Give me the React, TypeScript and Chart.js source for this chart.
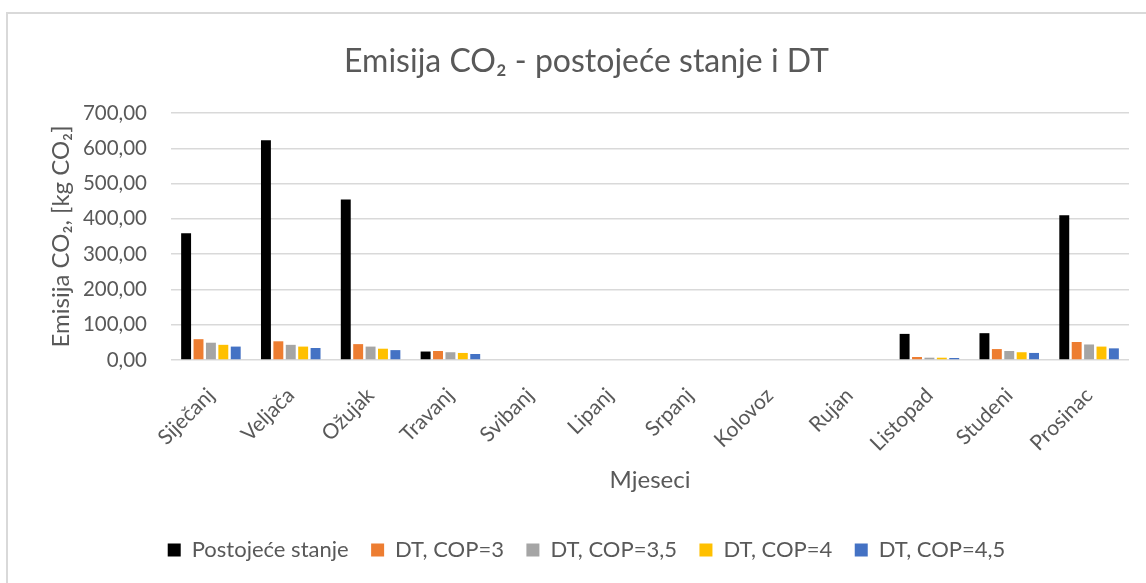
import React, { useEffect, useRef } from 'react';
import { Chart, registerables } from 'chart.js';

Chart.register(...registerables);

const months = ['Siječanj', 'Veljača', 'Ožujak', 'Travanj', 'Svibanj', 'Lipanj', 'Srpanj', 'Kolovoz', 'Rujan', 'Listopad', 'Studeni', 'Prosinac'];
const seriesNames = ['Postojeće stanje', 'DT, COP=3', 'DT, COP=3,5', 'DT, COP=4', 'DT, COP=4,5'];
const postojece = [359, 623, 455, 24, 0, 0, 0, 0, 0, 74, 76, 410];
const cop3 = [59, 53, 45, 25.5, 0, 0, 0, 0, 0, 8.5, 31, 51];
const cop35 = [49, 43, 38, 22, 0, 0, 0, 0, 0, 6.6, 25.5, 44];
const cop4 = [43, 38, 32, 20, 0, 0, 0, 0, 0, 6.5, 22, 38];
const cop45 = [38, 34, 28, 17, 0, 0, 0, 0, 0, 5.7, 20, 33];
const seriesColors = ['#000000', '#ED7D31', '#A5A5A5', '#FFC000', '#4472C4'];
const yMin = 0;
const yMax = 700;
const yStep = 100;

const TEXT = '#595959';
const FONT = 'Lato';

export default function App() {
  const ref = useRef<HTMLCanvasElement>(null);

  useEffect(() => {
    const values = [postojece, cop3, cop35, cop4, cop45];
    const chart = new Chart(ref.current as HTMLCanvasElement, {
      type: 'bar',
      data: {
        labels: months,
        datasets: values.map((d, i) => ({
          label: seriesNames[i],
          data: d,
          backgroundColor: seriesColors[i],
          borderWidth: 0,
          categoryPercentage: 0.777,
          barPercentage: 0.8,
        })),
      },
      options: {
        responsive: false,
        animation: false,
        layout: { padding: { left: 44, right: 17, top: 0, bottom: 12 } },
        plugins: {
          title: {
            display: true,
            text: 'Emisija CO₂ - postojeće stanje i DT',
            color: TEXT,
            font: { family: FONT, size: 32, weight: 'normal' },
            padding: { top: 42.8, bottom: 31.8 },
          },
          legend: {
            position: 'bottom',
            labels: {
              boxWidth: 13,
              boxHeight: 13,
              padding: 22.5,
              color: TEXT,
              font: { family: FONT, size: 22 },
            },
          },
          tooltip: { enabled: false },
        },
        scales: {
          x: {
            grid: { display: false },
            border: { display: false },
            ticks: {
              minRotation: 45,
              maxRotation: 45,
              autoSkip: false,
              color: TEXT,
              font: { family: FONT, size: 21 },
              padding: 15,
            },
            title: {
              display: true,
              text: 'Mjeseci',
              color: TEXT,
              font: { family: FONT, size: 24 },
              padding: { top: 0, bottom: 22.1 },
            },
            afterFit: (s: any) => {
              s.height = 156.5;
            },
          },
          y: {
            min: yMin,
            max: yMax,
            ticks: {
              stepSize: yStep,
              callback: (v: any) => Number(v).toFixed(2).replace('.', ','),
              padding: 24,
              color: TEXT,
              font: { family: FONT, size: 20.5 },
            },
            grid: { color: '#d9d9d9', lineWidth: 1.5, drawTicks: false },
            border: { display: false },
            title: {
              display: true,
              text: 'Emisija CO₂, [kg CO₂]',
              color: TEXT,
              font: { family: FONT, size: 24 },
              padding: { top: 2.6, bottom: 0 },
            },
            afterFit: (s: any) => {
              s.width = 127;
            },
          },
        },
      },
    } as any);
    return () => chart.destroy();
  }, []);

  return (
    <div style={{ position: 'fixed', left: 0, top: 0, width: 1146, height: 583, overflow: 'hidden', background: '#ffffff' }}>
      <div style={{ position: 'absolute', left: 6, top: 12, width: 1300, height: 700, border: '2px solid #d9d9d9', boxSizing: 'border-box' }} />
      <canvas ref={ref} width={1146} height={583} style={{ position: 'absolute', left: 0, top: 0 }} />
    </div>
  );
}
